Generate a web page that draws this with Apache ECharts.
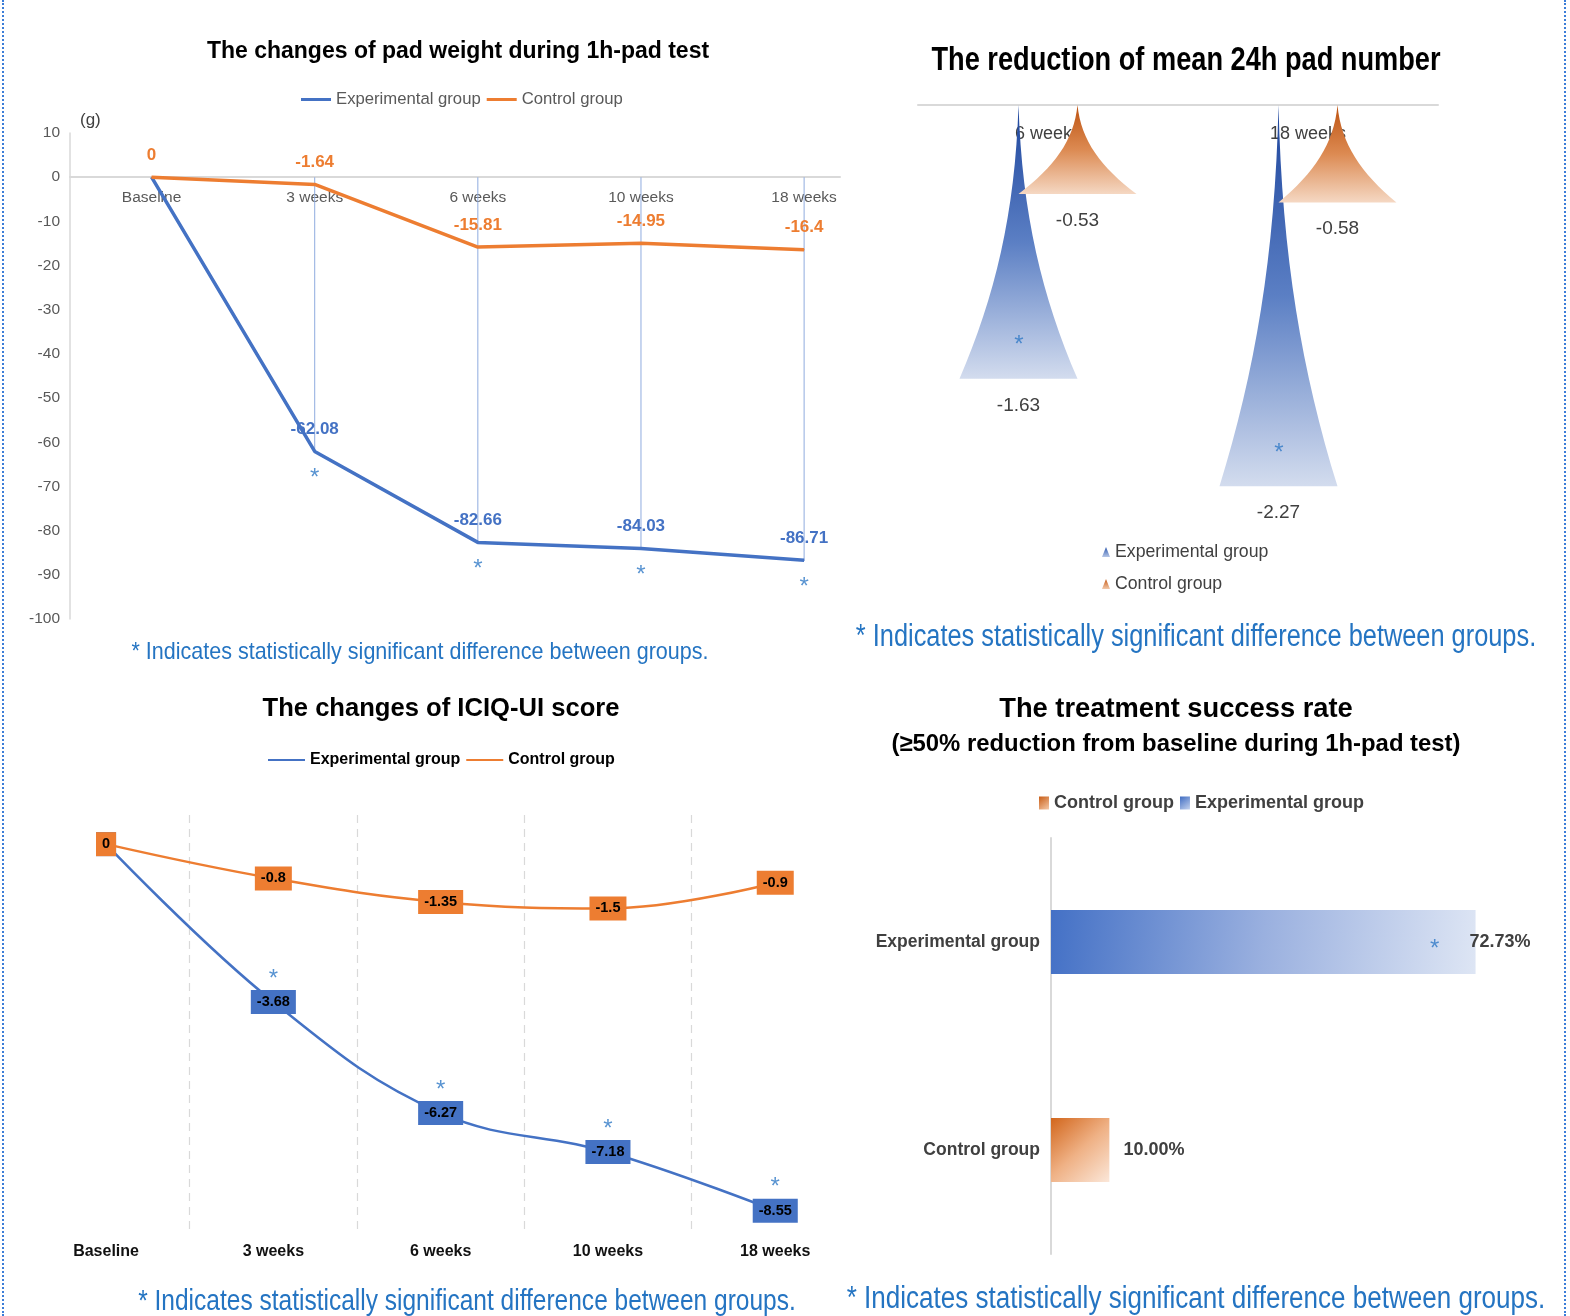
<!DOCTYPE html>
<html>
<head>
<meta charset="utf-8">
<script src="https://cdn.jsdelivr.net/npm/echarts@6/dist/echarts.min.js"></script>
<style>
  html, body { margin: 0; padding: 0; background: #fff; }
  #wrap { position: relative; width: 1570px; height: 1316px; }
  #chart { position: absolute; left: 0; top: 0; width: 1570px; height: 1316px; }
  #frame { position: absolute; left: 2px; top: 0; width: 1560px; height: 1316px;
           border-left: 2px dotted #3b7dd8; border-right: 2px dotted #3b7dd8; pointer-events: none; }
</style>
</head>
<body>
<div id="wrap"><div id="chart"></div><div id="frame"></div></div>
<script>
// ---- 1h pad test: change of pad weight (g) ----
const padCategories = ['Baseline', '3 weeks', '6 weeks', '10 weeks', '18 weeks'];
const padExperimental = [0, -62.08, -82.66, -84.03, -86.71];
const padControl = [0, -1.64, -15.81, -14.95, -16.4];
const padSignificant = [false, true, true, true, true];

// ---- reduction of mean 24h pad number ----
const padNumCategories = ['6 weeks', '18 weeks'];
const padNumExperimental = [-1.63, -2.27];
const padNumControl = [-0.53, -0.58];
const padNumSignificant = [true, true];

// ---- ICIQ-UI score changes ----
const iciqCategories = ['Baseline', '3 weeks', '6 weeks', '10 weeks', '18 weeks'];
const iciqExperimental = [0, -3.68, -6.27, -7.18, -8.55];
const iciqControl = [0, -0.8, -1.35, -1.5, -0.9];
const iciqSignificant = [false, true, true, true, true];

// ---- treatment success rate (%) ----
const successCategories = ['Control group', 'Experimental group'];
const successControl = 10.00;
const successExperimental = 72.73;

const SANS = '"Liberation Sans", Arial, sans-serif';
const BLUE = '#4472c4';
const ORANGE = '#ed7d31';
const NOTE = '#2474c2';
const NOTE_TEXT = '* Indicates statistically significant difference between groups.';

const grad = (x, y, x2, y2, stops) => ({
  type: 'linear', x, y, x2, y2,
  colorStops: stops.map((c, i) => ({ offset: i / (stops.length - 1), color: c }))
});
// spike gradients are given in the symbol's own frame, which is flipped for downward bars
const blueSpike = grad(0, 0, 0, 1, ['#d3dcee', '#5b7fc4', '#1d459d']);
const orangeSpike = grad(0, 0, 0, 1, ['#f5d8c3', '#dc8a52', '#bd5210']);
const blueBar = grad(0, 0.2, 1, 0.8, ['#4471c6', '#9ab0df', '#dde5f4']);
const orangeBar = grad(0, 0, 1, 1, ['#d2661c', '#efb185', '#fbe7d9']);

// spike shape: narrow end at the axis, wide end at the value
const spikePath = 'path://M5,10 C5.3,6 7,3 10,0 L0,0 C3,3 4.7,6 5,10 Z';

const starLabel = (extra) => Object.assign({
  show: true, formatter: '*', color: '#2e78c6', fontSize: 24, fontFamily: SANS
}, extra);

// free text (titles, notes); scaleX narrows the glyphs where a condensed face is wanted
const text = (str, x, y, font, fill, scaleX) => ({
  type: 'text', x, y, scaleX: scaleX || 1, silent: true,
  style: { text: str, font, fill, align: 'center', verticalAlign: 'middle' }
});

const chart = echarts.init(document.getElementById('chart'), null, { renderer: 'canvas' });

const option = {
  animation: false,
  textStyle: { fontFamily: SANS },
  graphic: [
    text('The changes of pad weight during 1h-pad test', 458, 52, 'bold 23px ' + SANS, '#000'),
    text('The reduction of mean 24h pad number', 1186, 61, 'bold 33px ' + SANS, '#000', 0.824),
    text('The changes of ICIQ-UI score', 441, 709, 'bold 25.6px ' + SANS, '#000'),
    text('The treatment success rate', 1176, 709, 'bold 27.3px ' + SANS, '#000'),
    text('(\u226550% reduction from baseline during 1h-pad test)', 1176, 744, 'bold 24px ' + SANS, '#000', 0.995),
    text(NOTE_TEXT, 420, 652, '24px ' + SANS, NOTE, 0.896),
    text(NOTE_TEXT, 1196, 637, '31px ' + SANS, NOTE, 0.818),
    text(NOTE_TEXT, 467, 1302, '30px ' + SANS, NOTE, 0.817),
    text(NOTE_TEXT, 1196, 1299, '31px ' + SANS, NOTE, 0.84)
  ],
  legend: [
    {
      left: 296, top: 86, icon: 'rect', itemWidth: 30, itemHeight: 3, itemGap: 6,
      textStyle: { fontSize: 16.7, color: '#595959', fontFamily: SANS },
      data: [
        { name: 'Experimental group', itemStyle: { color: BLUE } },
        { name: 'Control group', itemStyle: { color: ORANGE } }
      ]
    },
    {
      orient: 'vertical', left: 1097, top: 538, itemWidth: 8, itemHeight: 10, itemGap: 14,
      textStyle: { fontSize: 17.7, color: '#404040', fontFamily: SANS },
      data: [
        { name: 'Experimental group', icon: 'triangle', itemStyle: { color: grad(0, 0, 0, 1, ['#2a56ad', '#b6c6e6']) } },
        { name: 'Control group', icon: 'triangle', itemStyle: { color: grad(0, 0, 0, 1, ['#c65a16', '#f2c9ab']) } }
      ]
    },
    {
      left: 263, top: 747, icon: 'rect', itemWidth: 37, itemHeight: 2, itemGap: 6,
      textStyle: { fontSize: 16, fontWeight: 'bold', color: '#000', fontFamily: SANS },
      data: [
        { name: 'Experimental group', itemStyle: { color: BLUE } },
        { name: 'Control group', itemStyle: { color: ORANGE } }
      ]
    },
    {
      left: 1034, top: 789, icon: 'rect', itemWidth: 10, itemHeight: 13, itemGap: 6,
      textStyle: { fontSize: 18, fontWeight: 'bold', color: '#404040', fontFamily: SANS },
      data: [
        { name: 'Control group', itemStyle: { color: grad(0, 0, 1, 1, ['#c85d16', '#f5c9a8']) } },
        { name: 'Experimental group', itemStyle: { color: grad(0, 0, 1, 1, ['#3f6cc2', '#c5d3ee']) } }
      ]
    }
  ],
  grid: [
    { left: 70, top: 133, width: 770, height: 486 },
    { left: 918, top: 105, width: 520, height: 420 },
    { left: 22.4, top: 815, width: 836.5, height: 415 },
    { left: 1051, top: 838, width: 467, height: 416 }
  ],
  xAxis: [
    {
      // category positions 0..4; axis drawn along the zero line (442px above the grid bottom)
      gridIndex: 0, type: 'value', min: -0.5, max: 4.22, position: 'bottom', offset: -442,
      axisLine: { onZero: false, lineStyle: { color: '#d9d9d9', width: 2 } },
      axisTick: { show: false }, splitLine: { show: false },
      axisLabel: {
        customValues: padCategories.map((_, i) => i),
        formatter: v => padCategories[Math.round(v)],
        color: '#595959', fontSize: 15.5, margin: 13, fontFamily: SANS
      }
    },
    {
      gridIndex: 1, type: 'category', data: padNumCategories, position: 'top',
      axisLine: { onZero: false, lineStyle: { color: '#d9d9d9', width: 2 } },
      axisTick: { show: false },
      axisLabel: { inside: true, margin: 20, color: '#404040', fontSize: 18, fontFamily: SANS }
    },
    {
      gridIndex: 2, type: 'category', data: iciqCategories, boundaryGap: true,
      axisLine: { show: false }, axisTick: { show: false },
      axisLabel: { margin: 14, color: '#111', fontSize: 16, fontWeight: 'bold', fontFamily: SANS },
      splitLine: { show: true, showMinLine: false, showMaxLine: false,
                   lineStyle: { color: '#d9d9d9', type: [8, 6], width: 1.2 } }
    },
    {
      gridIndex: 3, type: 'value', min: 0, max: 80, show: false
    }
  ],
  yAxis: [
    {
      gridIndex: 0, type: 'value', min: -100, max: 10, interval: 10,
      name: '(g)', nameLocation: 'end', nameGap: 4,
      nameTextStyle: { align: 'left', padding: [0, 0, 0, 10], fontSize: 17, color: '#404040' },
      axisLine: { show: true, onZero: false, lineStyle: { color: '#d9d9d9', width: 1.5 } },
      axisTick: { show: false }, splitLine: { show: false },
      axisLabel: { color: '#595959', fontSize: 15.5, margin: 10, fontFamily: SANS }
    },
    { gridIndex: 1, type: 'value', min: -2.5, max: 0, show: false },
    { gridIndex: 2, type: 'value', min: -9, max: 0.68, show: false },
    {
      gridIndex: 3, type: 'category', data: successCategories,
      axisLine: { lineStyle: { color: '#d9d9d9', width: 2 } }, axisTick: { show: false },
      axisLabel: { margin: 11, color: '#404040', fontSize: 17.5, fontWeight: 'bold', fontFamily: SANS }
    }
  ],
  series: [
    // ---- pad weight panel ----
    {
      type: 'bar', name: 'drop lines', xAxisIndex: 0, yAxisIndex: 0, barWidth: 1, silent: true, z: 1,
      itemStyle: { color: '#8fabdf' },
      data: padExperimental.map((v, i) => [i, v])
    },
    {
      type: 'line', name: 'Experimental group', xAxisIndex: 0, yAxisIndex: 0, z: 3,
      symbol: 'circle', symbolSize: 1,
      lineStyle: { color: BLUE, width: 3.5 }, itemStyle: { color: BLUE },
      label: { show: true, position: 'top', distance: 13, color: BLUE, fontWeight: 'bold', fontSize: 17,
               fontFamily: SANS, formatter: p => p.value[1] },
      data: padExperimental.map((v, i) => i === 0 ? { value: [i, v], label: { show: false } } : [i, v])
    },
    {
      type: 'line', name: 'Control group', xAxisIndex: 0, yAxisIndex: 0, z: 4,
      symbol: 'circle', symbolSize: 1,
      lineStyle: { color: ORANGE, width: 3.5 }, itemStyle: { color: ORANGE },
      label: { show: true, position: 'top', distance: 13, color: ORANGE, fontWeight: 'bold', fontSize: 17,
               fontFamily: SANS, formatter: p => p.value[1] },
      data: padControl.map((v, i) => [i, v])
    },
    {
      type: 'scatter', name: 'significance', xAxisIndex: 0, yAxisIndex: 0, silent: true,
      symbolSize: 1, itemStyle: { color: 'rgba(0,0,0,0)' },
      label: starLabel({ position: 'inside', offset: [0, 27] }),
      data: padExperimental.map((v, i) => [i, v]).filter((_, i) => padSignificant[i])
    },

    // ---- 24h pad number panel ----
    {
      type: 'pictorialBar', name: 'Experimental group', xAxisIndex: 1, yAxisIndex: 1,
      barWidth: 118, barGap: '-50%', symbol: spikePath, symbolSize: ['100%', '100%'], z: 2,
      itemStyle: { color: blueSpike },
      label: { show: true, position: 'bottom', distance: 17, color: '#404040', fontSize: 19, fontFamily: SANS },
      data: padNumExperimental
    },
    {
      type: 'pictorialBar', name: 'Control group', xAxisIndex: 1, yAxisIndex: 1,
      barWidth: 118, barGap: '-50%', symbol: spikePath, symbolSize: ['100%', '100%'], z: 3,
      itemStyle: { color: orangeSpike },
      label: { show: true, position: 'bottom', distance: 17, color: '#404040', fontSize: 19, fontFamily: SANS },
      data: padNumControl
    },
    {
      type: 'scatter', name: 'significance', xAxisIndex: 1, yAxisIndex: 1, silent: true, z: 5,
      symbolSize: 1, itemStyle: { color: 'rgba(0,0,0,0)' },
      label: starLabel({ position: 'inside', offset: [-29, -33] }),
      data: padNumExperimental.map((v, i) => padNumSignificant[i] ? v : '-')
    },

    // ---- ICIQ-UI panel ----
    {
      type: 'line', name: 'Experimental group', xAxisIndex: 2, yAxisIndex: 2, smooth: 0.4,
      symbol: 'circle', symbolSize: 1, z: 3,
      lineStyle: { color: BLUE, width: 2.5 }, itemStyle: { color: BLUE },
      label: { show: true, position: 'inside', backgroundColor: BLUE, padding: [5, 6, 4, 6],
               color: '#000', fontWeight: 'bold', fontSize: 14.5, fontFamily: SANS },
      data: iciqExperimental
    },
    {
      type: 'line', name: 'Control group', xAxisIndex: 2, yAxisIndex: 2, smooth: 0.4,
      symbol: 'circle', symbolSize: 1, z: 4,
      lineStyle: { color: ORANGE, width: 2.5 }, itemStyle: { color: ORANGE },
      label: { show: true, position: 'inside', backgroundColor: ORANGE, padding: [5, 6, 4, 6],
               color: '#000', fontWeight: 'bold', fontSize: 14.5, fontFamily: SANS },
      data: iciqControl
    },
    {
      type: 'scatter', name: 'significance', xAxisIndex: 2, yAxisIndex: 2, silent: true, z: 5,
      symbolSize: 1, itemStyle: { color: 'rgba(0,0,0,0)' },
      label: starLabel({ position: 'inside', offset: [0, -23] }),
      data: iciqExperimental.map((v, i) => iciqSignificant[i] ? v : '-')
    },

    // ---- treatment success panel ----
    {
      type: 'bar', name: 'Control group', xAxisIndex: 3, yAxisIndex: 3, barWidth: 64, barGap: '-100%',
      itemStyle: { color: orangeBar },
      label: { show: true, position: 'right', distance: 14, color: '#404040', fontSize: 18,
               fontWeight: 'bold', fontFamily: SANS, formatter: p => p.value.toFixed(2) + '%' },
      data: [successControl, '-']
    },
    {
      type: 'bar', name: 'Experimental group', xAxisIndex: 3, yAxisIndex: 3, barWidth: 64, barGap: '-100%',
      itemStyle: { color: blueBar },
      label: { show: true, position: 'right', distance: -6, color: '#404040', fontSize: 18,
               fontWeight: 'bold', fontFamily: SANS, formatter: p => p.value.toFixed(2) + '%' },
      data: ['-', successExperimental]
    },
    {
      type: 'scatter', name: 'significance', xAxisIndex: 3, yAxisIndex: 3, silent: true, z: 5,
      symbolSize: 1, itemStyle: { color: 'rgba(0,0,0,0)' },
      label: starLabel({ position: 'inside', offset: [-41, 7] }),
      data: [[successExperimental, 'Experimental group']]
    }
  ]
};

chart.setOption(option);
</script>
</body>
</html>
